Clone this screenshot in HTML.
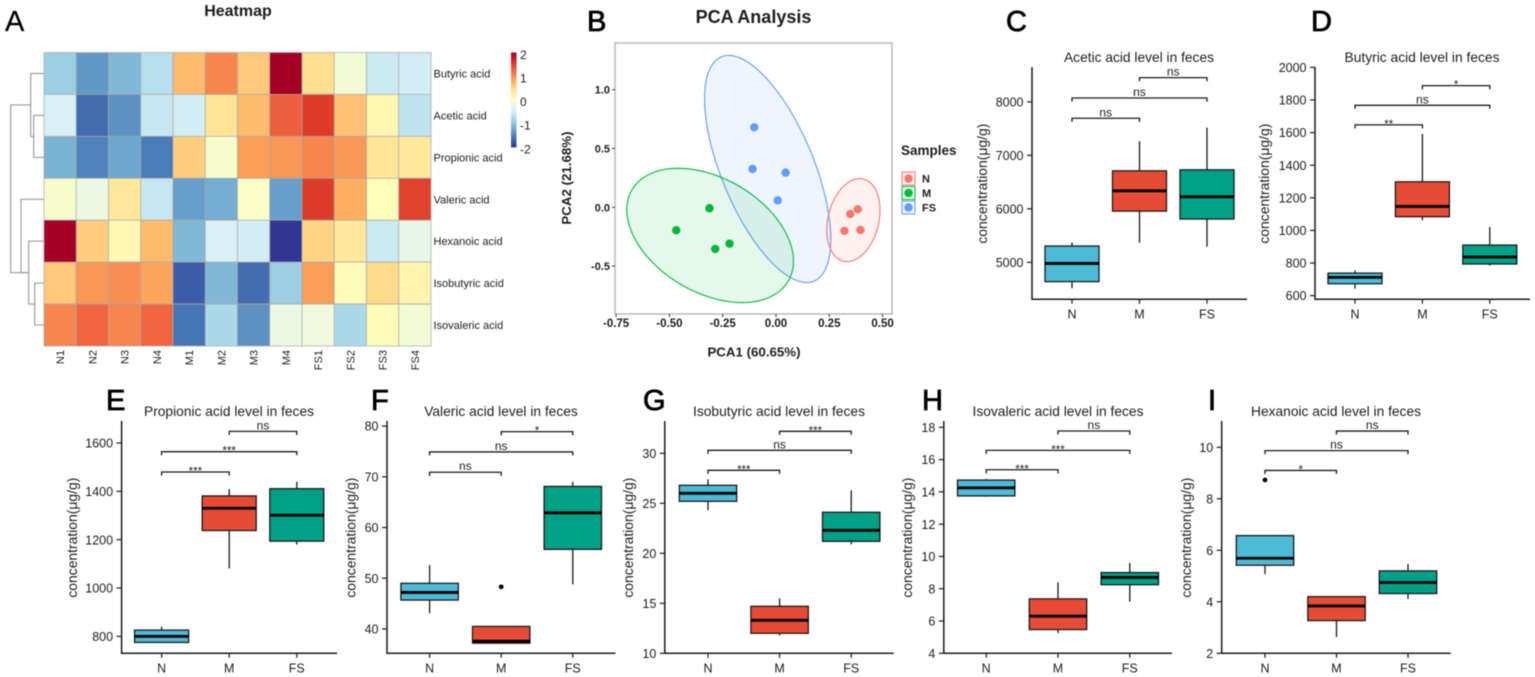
<!DOCTYPE html>
<html lang="en">
<head>
<meta charset="utf-8">
<title>Short-chain fatty acid analysis figure</title>
<style>
html,body{margin:0;padding:0;background:#fff;width:1535px;height:677px;overflow:hidden}
svg{display:block;filter:blur(0.45px)}
text{font-family:"Liberation Sans",sans-serif;fill:#1c1c1c}
</style>
</head>
<body>
<svg id="figure" xmlns="http://www.w3.org/2000/svg" width="1535" height="677" viewBox="0 0 1535 677"></svg>
<script>
/* ---------- Heatmap data ---------- */
const heatSamples = ['N1','N2','N3','N4','M1','M2','M3','M4','FS1','FS2','FS3','FS4'];
const heatAcids = ['Butyric acid','Acetic acid','Propionic acid','Valeric acid','Hexanoic acid','Isobutyric acid','Isovaleric acid'];
const heatButyric = [-0.9,-1.35,-1.1,-0.72,0.7,1.05,0.6,2,0.4,-0.15,-0.55,-0.5];
const heatAcetic = [-0.45,-1.65,-1.4,-0.6,-0.5,0.35,0.7,1.3,1.52,0.65,0.12,-0.65];
const heatPropionic = [-1.15,-1.5,-1.25,-1.55,0.55,-0.1,0.9,0.95,1.05,0.95,0.35,0.3];
const heatValeric = [-0.1,-0.25,0.3,-0.6,-1.3,-1.2,-0.06,-1.3,1.52,0.8,0.03,1.48];
const heatHexanoic = [2,0.55,0.1,0.7,-1.1,-0.45,-0.5,-2,0.5,0.3,-0.55,-0.3];
const heatIsobutyric = [0.6,0.95,1.0,0.85,-1.75,-1.1,-1.65,-0.9,0.9,0.05,0.45,0.15];
const heatIsovaleric = [1.05,1.25,1.05,1.25,-1.6,-0.8,-1.4,-0.25,-0.2,-0.8,0.05,-0.15];
const heatLegendTicks = [2,1,0,-1,-2];

/* dendrogram merges: left member, right member, merge distance. Leaves are row indexes, "nK" is merge K */
const dendroLeft = [1,0,5,4,3,'n3'];
const dendroRight = [2,'n0',6,'n2','n3','n1'];
const dendroDistance = [10.3,13.3,9.3,15.3,23,33.3];

/* ---------- PCA data ---------- */
const pcaGroups = ['N','M','FS'];
const pcaXTicks = [-0.75,-0.5,-0.25,0,0.25,0.5];
const pcaYTicks = [-0.5,0,0.5,1];
const pcaNx = [0.384,0.348,0.321,0.396];
const pcaNy = [-0.017,-0.057,-0.201,-0.193];
const pcaMx = [-0.312,-0.468,-0.285,-0.218];
const pcaMy = [-0.008,-0.195,-0.354,-0.309];
const pcaFSx = [-0.102,-0.110,0.045,0.008];
const pcaFSy = [0.680,0.326,0.295,0.059];
/* ellipse statistics for N, M, FS */
const ellipseMeanX = [0.363,-0.309,-0.039];
const ellipseMeanY = [-0.109,-0.239,0.326];
const ellipseSpreadX = [0.125,0.391,0.296];
const ellipseSpreadY = [0.353,0.571,0.966];
const ellipseCorr = [0.238,-0.383,-0.619];

/* ---------- Box plot data ---------- */
const boxGroups = ['N','M','FS'];

const cTicks = [5000,6000,7000,8000];
const cLow = [4515,5367,5292];
const cQ1 = [4640,5958,5810];
const cMedian = [4980,6338,6226];
const cQ3 = [5305,6711,6730];
const cHigh = [5373,7265,7520];
const cOutliers = [null,null,null];
const cBrackets = [7694,8074,8454];
const cSig = ['ns','ns','ns'];

const dTicks = [600,800,1000,1200,1400,1600,1800,2000];
const dLow = [643,1063,784];
const dQ1 = [673,1084,794];
const dMedian = [712,1147,837];
const dQ3 = [738,1298,910];
const dHigh = [755,1592,1020];
const dOutliers = [null,null,null];
const dBrackets = [1647,1767,1888];
const dSig = ['**','ns','*'];

const eTicks = [800,1000,1200,1400,1600];
const eLow = [775,1081,1180];
const eQ1 = [775,1238,1194];
const eMedian = [800,1330,1301];
const eQ3 = [826,1381,1411];
const eHigh = [840,1410,1440];
const eOutliers = [null,null,null];
const eBrackets = [1480,1564,1648];
const eSig = ['***','***','ns'];

const fTicks = [40,50,60,70,80];
const fLow = [43.1,37.2,48.8];
const fQ1 = [45.7,37.2,55.7];
const fMedian = [47.2,37.6,62.9];
const fQ3 = [49,40.5,68.1];
const fHigh = [52.6,40.5,69];
const fOutliers = [null,48.3,null];
const fBrackets = [70.9,74.9,78.9];
const fSig = ['ns','ns','*'];

const gTicks = [10,15,20,25,30];
const gLow = [24.3,11.8,20.9];
const gQ1 = [25.2,12,21.2];
const gMedian = [26,13.3,22.3];
const gQ3 = [26.8,14.7,24.1];
const gHigh = [27.4,15.5,26.3];
const gOutliers = [null,null,null];
const gBrackets = [28.3,30.3,32.2];
const gSig = ['***','ns','***'];

const hTicks = [4,6,8,10,12,14,16,18];
const hLow = [13.7,5.25,7.2];
const hQ1 = [13.75,5.47,8.25];
const hMedian = [14.25,6.3,8.7];
const hQ3 = [14.73,7.37,9];
const hHigh = [14.8,8.4,9.6];
const hOutliers = [null,null,null];
const hBrackets = [15.37,16.57,17.77];
const hSig = ['***','***','ns'];

const iTicks = [2,4,6,8,10];
const iLow = [5.07,2.63,4.11];
const iQ1 = [5.42,3.27,4.32];
const iMedian = [5.69,3.84,4.75];
const iQ3 = [6.57,4.2,5.2];
const iHigh = [6.57,4.2,5.47];
const iOutliers = [8.73,null,null];
const iBrackets = [9.1,9.87,10.63];
const iSig = ['*','ns','ns'];

/* ---------- Helpers ---------- */
const NS = 'http://www.w3.org/2000/svg';
const figure = document.getElementById('figure');
function mk(parent, tag, attrs, txt) {
  const node = document.createElementNS(NS, tag);
  for (const k in attrs) node.setAttribute(k, attrs[k]);
  if (txt !== undefined) node.textContent = txt;
  parent.appendChild(node);
  return node;
}
function slug(s) { return String(s).toLowerCase().replace(/[^a-z0-9]+/g, '-').replace(/^-|-$/g, ''); }
function linear(d0, d1, r0, r1) { return v => r0 + (v - d0) * (r1 - r0) / (d1 - d0); }

const rampStops = ['#313695','#4575b4','#74add1','#abd9e9','#e0f3f8','#ffffbf','#fee090','#fdae61','#f46d43','#d73027','#a50026'];
function hexRgb(h) { return [1,3,5].map(i => parseInt(h.substr(i,2),16)); }
function heatColor(v) {
  const t = Math.max(0, Math.min(1, (v + 2) / 4)) * (rampStops.length - 1);
  const i = Math.min(rampStops.length - 2, Math.floor(t));
  const a = hexRgb(rampStops[i]), b = hexRgb(rampStops[i + 1]), f = t - i;
  return 'rgb(' + a.map((c, j) => Math.round(c + (b[j] - c) * f)).join(',') + ')';
}

/* ---------- Panel letters ---------- */
const panelLetters = ['A','B','C','D','E','F','G','H','I'];
const letterX = [5,587,1006,1311,106,371,643,922,1208];
const letterY = [31,31,31,31,410,410,410,410,410];
panelLetters.forEach((l, i) => {
  const t = mk(figure, 'text', {x: letterX[i], y: letterY[i], 'font-size': 29, fill: '#000', style: 'fill:#000;stroke:#000;stroke-width:' + (i ? 0.8 : 0.2)}, l);
  
  
});

/* ---------- Panel A: heatmap ---------- */
(function drawHeatmap() {
  const heatRows = [heatButyric, heatAcetic, heatPropionic, heatValeric, heatHexanoic, heatIsobutyric, heatIsovaleric];
  const left = 44, right = 431, top = 52.5, bottom = 346;
  const g = mk(figure, 'g', {});
  
  
  const cw = (right - left) / heatSamples.length, ch = (bottom - top) / heatAcids.length;
  const title = mk(g, 'text', {x: 238, y: 16, 'font-size': 16, 'font-weight': 'bold', 'text-anchor': 'middle'}, 'Heatmap');
  
  
  heatRows.forEach((row, r) => {
    row.forEach((v, c) => {
      const cell = mk(g, 'rect', {x: left + c * cw, y: top + r * ch, width: cw, height: ch, fill: heatColor(v), stroke: '#a9a9a9', 'stroke-width': 0.7});
      
      
    });
    const lab = mk(g, 'text', {x: 433.5, y: top + (r + 0.5) * ch + 4, 'font-size': 11}, heatAcids[r]);
    
    
  });
  heatSamples.forEach((s, c) => {
    const cx = left + (c + 0.5) * cw;
    const lab = mk(g, 'text', {x: cx + 4, y: 350, 'font-size': 11, 'text-anchor': 'end', transform: 'rotate(-90 ' + (cx + 4) + ' 350)'}, s);
    
    
  });
  /* dendrogram */
  const dg = mk(g, 'g', {fill: 'none', stroke: '#8f8f8f', 'stroke-width': 1});
  
  
  const merged = [];
  function member(m) {
    if (typeof m === 'string') return merged[+m.slice(1)];
    return {x: left, y: top + (m + 0.5) * ch};
  }
  dendroDistance.forEach((d, i) => {
    const a = member(dendroLeft[i]), b = member(dendroRight[i]), x = left - d;
    const link = mk(dg, 'path', {d: 'M' + a.x + ' ' + a.y + 'H' + x + 'V' + b.y + 'H' + b.x});
    
    
    merged.push({x: x, y: (a.y + b.y) / 2});
  });
  /* colour legend */
  const barTop = 52.5, barBottom = 147;
  const ly = linear(2, -2, barTop, barBottom);
  const lg = mk(g, 'g', {});
  
  
  const steps = 48;
  for (let i = 0; i < steps; i++) {
    const v0 = 2 - 4 * i / steps;
    const seg = mk(lg, 'rect', {x: 511, y: ly(v0), width: 5.5, height: (barBottom - barTop) / steps + 0.4, fill: heatColor(v0 - 2 / steps)});
    
    
  }
  heatLegendTicks.forEach(v => {
    const t = mk(lg, 'text', {x: 520, y: ly(v) + 6.3, 'font-size': 12}, String(v));
    
    
  });
})();

/* ---------- Panel B: PCA ---------- */
(function drawPCA() {
  const g = mk(figure, 'g', {});
  
  
  const px = linear(0, 0.5, 776, 882.6), py = linear(0, 1, 207.3, 89.7);
  const colors = ['#F8766D','#00BA38','#619CFF'];
  const xs = [pcaNx, pcaMx, pcaFSx], ys = [pcaNy, pcaMy, pcaFSy];
  const title = mk(g, 'text', {x: 753.5, y: 23, 'font-size': 18, 'font-weight': 'bold', 'text-anchor': 'middle'}, 'PCA Analysis');
  
  
  const frame = mk(g, 'rect', {x: 615, y: 43, width: 277, height: 271, fill: '#fff', stroke: '#b5b5b5', 'stroke-width': 1.4});
  
  
  [2, 1, 0].forEach(k => {
    const pts = [];
    const s = Math.sqrt(1 - ellipseCorr[k] * ellipseCorr[k]);
    for (let i = 0; i < 96; i++) {
      const t = i / 96 * 2 * Math.PI;
      const dx = ellipseSpreadX[k] * Math.cos(t);
      const dy = ellipseSpreadY[k] * (ellipseCorr[k] * Math.cos(t) + s * Math.sin(t));
      pts.push(px(ellipseMeanX[k] + dx).toFixed(1) + ',' + py(ellipseMeanY[k] + dy).toFixed(1));
    }
    const e = mk(g, 'polygon', {points: pts.join(' '), fill: colors[k], 'fill-opacity': 0.1, stroke: colors[k], 'stroke-width': 1.1});
    
    
  });
  xs.forEach((arr, k) => arr.forEach((x, i) => {
    const c = mk(g, 'circle', {cx: px(x), cy: py(ys[k][i]), r: 4.2, fill: colors[k]});
    
    
  }));
  pcaXTicks.forEach(v => {
    const t = mk(g, 'line', {x1: px(v), x2: px(v), y1: 314, y2: 317, stroke: '#333', 'stroke-width': 1});
    
    
    const l = mk(g, 'text', {x: px(v), y: 327, 'font-size': 11.5, 'font-weight': 'bold', 'text-anchor': 'middle'}, v.toFixed(2));
    
    
  });
  pcaYTicks.forEach(v => {
    const t = mk(g, 'line', {x1: 612, x2: 615, y1: py(v), y2: py(v), stroke: '#333', 'stroke-width': 1});
    
    
    const l = mk(g, 'text', {x: 610, y: py(v) + 4, 'font-size': 11, 'font-weight': 'bold', 'text-anchor': 'end'}, v.toFixed(1));
    
    
  });
  const xt = mk(g, 'text', {x: 754, y: 356.5, 'font-size': 13.3, 'font-weight': 'bold', 'text-anchor': 'middle'}, 'PCA1 (60.65%)');
  
  
  const yt = mk(g, 'text', {x: 571, y: 178, 'font-size': 13.3, 'font-weight': 'bold', 'text-anchor': 'middle', transform: 'rotate(-90 571 178)'}, 'PCA2 (21.68%)');
  
  
  const lt = mk(g, 'text', {x: 901, y: 155, 'font-size': 13.5, 'font-weight': 'bold'}, 'Samples');
  
  
  pcaGroups.forEach((name, k) => {
    const cy = 178.5 + k * 14.5;
    const entry = mk(g, 'g', {});
    
    
    const box = mk(entry, 'rect', {x: 902, y: cy - 6.5, width: 13, height: 13, fill: colors[k], 'fill-opacity': 0.1, stroke: colors[k], 'stroke-width': 1});
    
    
    const dot = mk(entry, 'circle', {cx: 908.5, cy: cy, r: 4.2, fill: colors[k]});
    
    
    const lab = mk(entry, 'text', {x: 922, y: cy + 4, 'font-size': 11, 'font-weight': 'bold'}, name);
    
    
  });
})();

/* ---------- Panels C-I: box plots ---------- */
const boxFills = ['#4DBBD5','#E64B35','#00A087'];
const bracketFrom = [0,0,1];
const bracketTo = [1,2,2];
function drawBox(c) {
  const g = mk(figure, 'g', {});
  
  
  const py = linear(c.domain[0], c.domain[1], c.bottom, c.top);
  const px = i => c.first + i * c.step;
  const ink = '#1a1a1a';
  const title = mk(g, 'text', {x: c.titleX, y: c.top - 5, 'font-size': 14, 'text-anchor': 'middle', textLength: c.titleW, lengthAdjust: 'spacingAndGlyphs'}, c.title);
  
  
  const ya = mk(g, 'line', {x1: c.left, x2: c.left, y1: c.top, y2: c.bottom + 0.7, stroke: ink, 'stroke-width': 1.5});
  
  
  const xa = mk(g, 'line', {x1: c.left, x2: c.right, y1: c.bottom, y2: c.bottom, stroke: ink, 'stroke-width': 1.5});
  
  
  c.ticks.forEach(v => {
    const t = mk(g, 'line', {x1: c.left - 5, x2: c.left, y1: py(v), y2: py(v), stroke: ink, 'stroke-width': 1.2});
    
    
    const l = mk(g, 'text', {x: c.left - 8.5, y: py(v) + 4.6, 'font-size': 12.5, 'text-anchor': 'end'}, String(v));
    
    
  });
  boxGroups.forEach((name, i) => {
    const t = mk(g, 'line', {x1: px(i), x2: px(i), y1: c.bottom, y2: c.bottom + 4.5, stroke: ink, 'stroke-width': 1.2});
    
    
    const l = mk(g, 'text', {x: px(i), y: c.bottom + 19, 'font-size': 12.5, 'text-anchor': 'middle'}, name);
    
    
    const w = mk(g, 'line', {x1: px(i), x2: px(i), y1: py(c.high[i]), y2: py(c.low[i]), stroke: ink, 'stroke-width': 1.3});
    
    
    const b = mk(g, 'rect', {x: px(i) - c.half, y: py(c.q3[i]), width: 2 * c.half, height: py(c.q1[i]) - py(c.q3[i]), fill: boxFills[i], stroke: ink, 'stroke-width': 1.3});
    
    
    const m = mk(g, 'line', {x1: px(i) - c.half, x2: px(i) + c.half, y1: py(c.median[i]), y2: py(c.median[i]), stroke: '#000', 'stroke-width': 2.8});
    
    
    if (c.outliers[i] !== null) {
      const o = mk(g, 'circle', {cx: px(i), cy: py(c.outliers[i]), r: 2.4, fill: '#000'});
      
      
    }
  });
  c.brackets.forEach((v, k) => {
    const x1 = px(bracketFrom[k]), x2 = px(bracketTo[k]), y = py(v);
    const p = mk(g, 'path', {d: 'M' + x1 + ' ' + (y + 3.6) + 'V' + y + 'H' + x2 + 'V' + (y + 3.6), fill: 'none', stroke: ink, 'stroke-width': 1.3});
    
    
    const isNs = c.sig[k] === 'ns';
    const s = mk(g, 'text', {x: (x1 + x2) / 2, y: y + (isNs ? -2 : 3), 'font-size': isNs ? 12 : 11.5, 'text-anchor': 'middle'}, c.sig[k]);
    
    
  });
  const cy = (c.top + c.bottom) / 2 + 0.5;
  const yt = mk(g, 'text', {x: c.yTitleX, y: cy, 'font-size': 14, 'text-anchor': 'middle', transform: 'rotate(-90 ' + c.yTitleX + ' ' + cy + ')', textLength: 120, lengthAdjust: 'spacingAndGlyphs'}, 'concentration(μg/g)');
  
  
}

drawBox({name:'acetic', title:'Acetic acid level in feces', titleX:1139, titleW:150, yTitleX:987, left:1032, right:1247, top:67, bottom:299.3, first:1072, step:67.5, half:27, domain:[4309,8653], ticks:cTicks, low:cLow, q1:cQ1, median:cMedian, q3:cQ3, high:cHigh, outliers:cOutliers, brackets:cBrackets, sig:cSig});
drawBox({name:'butyric', title:'Butyric acid level in feces', titleX:1422, titleW:155, yTitleX:1269, left:1315, right:1530, top:67, bottom:299.3, first:1355, step:67.4, half:27, domain:[577.5,2002], ticks:dTicks, low:dLow, q1:dQ1, median:dMedian, q3:dQ3, high:dHigh, outliers:dOutliers, brackets:dBrackets, sig:dSig});
drawBox({name:'propionic', title:'Propionic acid level in feces', titleX:229, titleW:170, yTitleX:77, left:121.6, right:337, top:421, bottom:653.3, first:161.6, step:67.6, half:27, domain:[730,1691], ticks:eTicks, low:eLow, q1:eQ1, median:eMedian, q3:eQ3, high:eHigh, outliers:eOutliers, brackets:eBrackets, sig:eSig});
drawBox({name:'valeric', title:'Valeric acid level in feces', titleX:501, titleW:153.5, yTitleX:355.5, left:387, right:615.5, top:421, bottom:653.3, first:429.6, step:71.6, half:28.7, domain:[35.2,81], ticks:fTicks, low:fLow, q1:fQ1, median:fMedian, q3:fQ3, high:fHigh, outliers:fOutliers, brackets:fBrackets, sig:fSig});
drawBox({name:'isobutyric', title:'Isobutyric acid level in feces', titleX:779, titleW:172, yTitleX:633, left:664.8, right:893.6, top:421, bottom:653.3, first:708, step:71.6, half:28.7, domain:[10,33.23], ticks:gTicks, low:gLow, q1:gQ1, median:gMedian, q3:gQ3, high:gHigh, outliers:gOutliers, brackets:gBrackets, sig:gSig});
drawBox({name:'isovaleric', title:'Isovaleric acid level in feces', titleX:1058, titleW:171, yTitleX:912, left:943.8, right:1172, top:421, bottom:653.3, first:986.2, step:71.8, half:28.7, domain:[4,18.39], ticks:hTicks, low:hLow, q1:hQ1, median:hMedian, q3:hQ3, high:hHigh, outliers:hOutliers, brackets:hBrackets, sig:hSig});
drawBox({name:'hexanoic', title:'Hexanoic acid level in feces', titleX:1336, titleW:170, yTitleX:1191, left:1221.7, right:1450.7, top:421, bottom:653.3, first:1265, step:71.5, half:28.7, domain:[2,11.02], ticks:iTicks, low:iLow, q1:iQ1, median:iMedian, q3:iQ3, high:iHigh, outliers:iOutliers, brackets:iBrackets, sig:iSig});
</script>
</body>
</html>
